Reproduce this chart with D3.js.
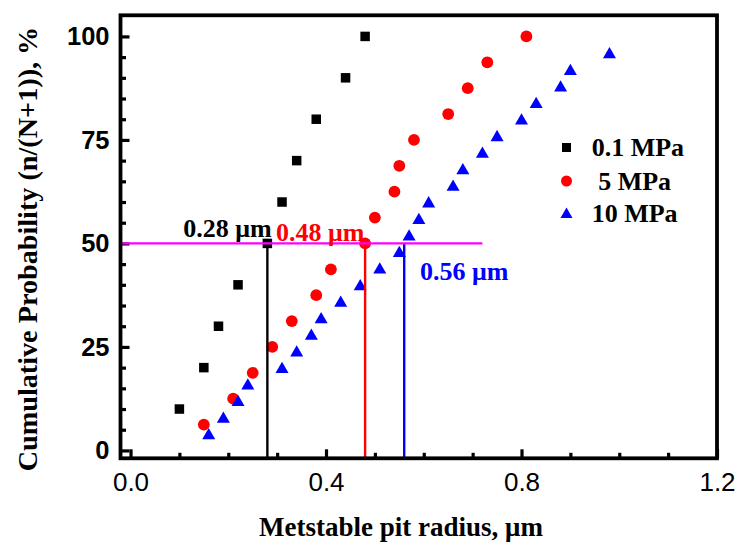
<!DOCTYPE html>
<html>
<head>
<meta charset="utf-8">
<script src="https://cdn.jsdelivr.net/npm/d3@7"></script>
<style>
  html, body { margin: 0; padding: 0; background: #fff; }
  svg { display: block; }
  text { white-space: pre; }
</style>
</head>
<body>
<svg id="chart" width="737" height="543"></svg>
<script>
// Cumulative probability of metastable pit radius at three pressures
const seriesNames = ["0.1 MPa", " 5 MPa", "10 MPa"];
const seriesColors = ["#000000", "#ff0000", "#0000ff"];

const radius01 = [0.10, 0.15, 0.18, 0.22, 0.28, 0.31, 0.34, 0.38, 0.44, 0.48];
const prob01   = [10, 20, 30, 40, 50, 60, 70, 80, 90, 100];

const radius5 = [0.15, 0.21, 0.25, 0.29, 0.33, 0.38, 0.41, 0.48, 0.50, 0.54, 0.55, 0.58, 0.65, 0.69, 0.73, 0.81];
const prob5   = [6.25, 12.5, 18.75, 25, 31.25, 37.5, 43.75, 50, 56.25, 62.5, 68.75, 75, 81.25, 87.5, 93.75, 100];

const radius10 = [0.16, 0.19, 0.22, 0.24, 0.31, 0.34, 0.37, 0.39, 0.43, 0.47, 0.51, 0.55,
                  0.57, 0.59, 0.61, 0.66, 0.68, 0.72, 0.75, 0.80, 0.83, 0.88, 0.90, 0.98];
const prob10   = [4, 8, 12, 16, 20, 24, 28, 32, 36, 40, 44, 48,
                  52, 56, 60, 64, 68, 72, 76, 80, 84, 88, 92, 96];

// median radius (50 % probability) for each pressure
const medianRadius = [0.28, 0.48, 0.56];
const medianLabels = ["0.28 \u03bcm", "0.48 \u03bcm", "0.56 \u03bcm"];
const medianProb = 50;
const medianLineEnd = 0.72;

const xMajor = [0, 0.4, 0.8, 1.2];
const xMinor = [0.1, 0.2, 0.3, 0.5, 0.6, 0.7, 0.9, 1.0, 1.1];
const yMajor = [0, 25, 50, 75, 100];
const yMinor = [5, 10, 15, 20, 30, 35, 40, 45, 55, 60, 65, 70, 80, 85, 90, 95];

const svg = d3.select("#chart");
const plotLeft = 120.5, plotRight = 717, plotTop = 15.3, plotBottom = 458.3;

const x = d3.scaleLinear().domain([-0.0205, 1.2]).range([plotLeft, plotRight]);
const y = d3.scaleLinear().domain([-1.9, 105.1]).range([plotBottom, plotTop]);

// ---- axes (ticks point inward) ----
const fmtX = d3.format(".1f");
const gxMaj = svg.append("g").attr("transform", `translate(0,${plotBottom})`)
  .call(d3.axisBottom(x).tickValues(xMajor).tickFormat(fmtX)
    .tickSizeInner(-9).tickSizeOuter(0).tickPadding(14.4));
const gxMin = svg.append("g").attr("transform", `translate(0,${plotBottom})`)
  .call(d3.axisBottom(x).tickValues(xMinor).tickFormat("")
    .tickSizeInner(-5.5).tickSizeOuter(0));
const gyMaj = svg.append("g").attr("transform", `translate(${plotLeft},0)`)
  .call(d3.axisLeft(y).tickValues(yMajor).tickFormat(d3.format("d"))
    .tickSizeInner(-9).tickSizeOuter(0).tickPadding(11));
const gyMin = svg.append("g").attr("transform", `translate(${plotLeft},0)`)
  .call(d3.axisLeft(y).tickValues(yMinor).tickFormat("")
    .tickSizeInner(-5.5).tickSizeOuter(0));

[gxMaj, gxMin, gyMaj, gyMin].forEach(g => {
  g.select(".domain").remove();
  g.selectAll(".tick line").attr("stroke", "#000").attr("stroke-width", 3.2);
});
gxMaj.selectAll(".tick text")
  .attr("font-family", "'Liberation Sans', Arial, sans-serif")
  .attr("font-size", 26).attr("fill", "#000");
gyMaj.selectAll(".tick text")
  .attr("font-family", "'Liberation Sans', Arial, sans-serif")
  .attr("font-weight", "bold")
  .attr("font-size", 25.5).attr("fill", "#000");

// ---- data markers ----
const series = [
  { r: radius01, p: prob01, shape: d3.symbolSquare, size: 9.5 * 9.5 },
  { r: radius5, p: prob5, shape: d3.symbolCircle, size: Math.PI * 5.9 * 5.9 },
  { r: radius10, p: prob10, shape: d3.symbolTriangle, size: 13 * 13 * Math.sqrt(3) / 4 }
];

series.forEach((s, i) => {
  const pts = s.r.map((r, j) => [r, s.p[j]]);
  const sym = d3.symbol().type(s.shape).size(s.size);
  svg.append("g").selectAll("path").data(pts).join("path")
    .attr("d", sym)
    .attr("transform", d => {
      // center triangles on their bounding box
      const dy = s.shape === d3.symbolTriangle ? 1.6 : 0;
      return `translate(${x(d[0])},${y(d[1]) + dy})`;
    })
    .attr("fill", seriesColors[i]);
});

// ---- median guide lines ----
medianRadius.forEach((r, i) => {
  svg.append("line")
    .attr("x1", x(r)).attr("x2", x(r))
    .attr("y1", y(medianProb)).attr("y2", plotBottom)
    .attr("stroke", seriesColors[i]).attr("stroke-width", 2.4);
});
svg.append("line")
  .attr("x1", plotLeft).attr("x2", x(medianLineEnd))
  .attr("y1", y(medianProb)).attr("y2", y(medianProb))
  .attr("stroke", "#ff00ff").attr("stroke-width", 2.4);

// ---- median labels ----
const labelPos = [
  { x: 183.3, y: 237.3 },
  { x: 276, y: 240.5 },
  { x: 420, y: 280 }
];
medianLabels.forEach((t, i) => {
  svg.append("text")
    .attr("x", labelPos[i].x).attr("y", labelPos[i].y)
    .attr("font-family", "'Liberation Serif', 'Times New Roman', serif")
    .attr("font-weight", "bold").attr("font-size", 26)
    .attr("fill", seriesColors[i])
    .text(t);
});

// ---- frame ----
svg.append("rect")
  .attr("x", plotLeft).attr("y", plotTop)
  .attr("width", plotRight - plotLeft).attr("height", plotBottom - plotTop)
  .attr("fill", "none").attr("stroke", "#000").attr("stroke-width", 3.8);

// ---- legend ----
const legendSizes = [9 * 9, Math.PI * 5.5 * 5.5, 12 * 12 * Math.sqrt(3) / 4];
const legendY = [147.5, 181, 213];
const legend = svg.append("g");
series.forEach((s, i) => {
  const dy = s.shape === d3.symbolTriangle ? 1.5 : 0;
  legend.append("path")
    .attr("d", d3.symbol().type(s.shape).size(legendSizes[i]))
    .attr("transform", `translate(566.5,${legendY[i] + dy})`)
    .attr("fill", seriesColors[i]);
  legend.append("text")
    .attr("x", 591.7).attr("y", legendY[i] + 8.7)
    .attr("font-family", "'Liberation Serif', 'Times New Roman', serif")
    .attr("font-weight", "bold").attr("font-size", 26)
    .attr("fill", "#000")
    .text(seriesNames[i]);
});

// ---- axis titles ----
svg.append("text")
  .attr("x", 401).attr("y", 536)
  .attr("text-anchor", "middle")
  .attr("font-family", "'Liberation Serif', 'Times New Roman', serif")
  .attr("font-weight", "bold").attr("font-size", 27)
  .text("Metstable pit radius, \u03bcm");

svg.append("text")
  .attr("transform", "translate(37,249) rotate(-90)")
  .attr("text-anchor", "middle")
  .attr("font-family", "'Liberation Serif', 'Times New Roman', serif")
  .attr("font-weight", "bold").attr("font-size", 28.2)
  .text("Cumulative Probability (n/(N+1)), %");
</script>
</body>
</html>
